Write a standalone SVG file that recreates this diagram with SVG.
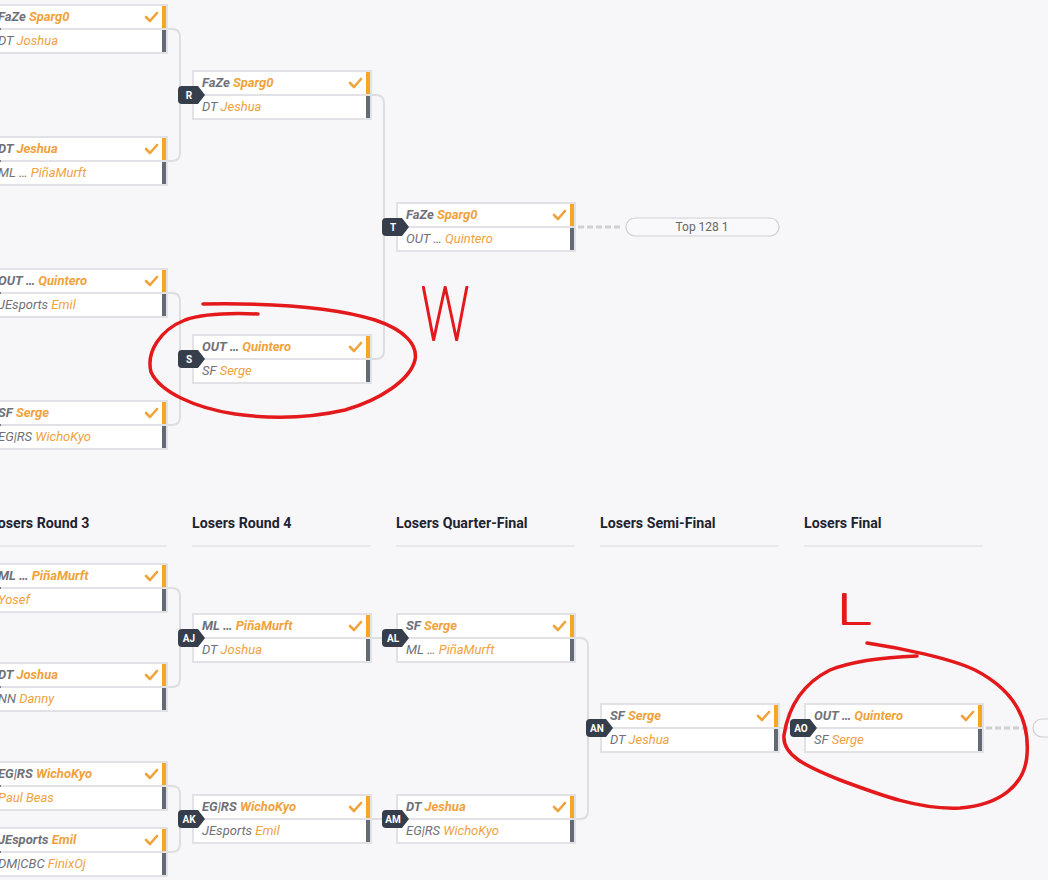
<svg xmlns="http://www.w3.org/2000/svg" width="1048" height="880" viewBox="0 0 1048 880">
<defs>
<style>
.bg{fill:#f7f7f9}
.box{fill:#fff;stroke:#e2e2e6;stroke-width:2}
.div{stroke:#e2e2e6;stroke-width:2}
.win{fill:#f5a623}
.los{fill:#626a74}
.chk{fill:none;stroke:#f0a33a;stroke-width:2.6;stroke-linecap:round;stroke-linejoin:round}
.t{font-family:Roboto,"Liberation Sans",sans-serif;font-size:13px;font-style:italic}
.t1{font-weight:bold}
.pre{fill:#707078}
.nm{fill:#f0a23c}
.tag{fill:#363d4b}
.tagt{font-family:Roboto,"Liberation Sans",sans-serif;font-size:10px;font-weight:bold;fill:#fff;text-anchor:middle}
.con{fill:none;stroke:#dedee2;stroke-width:2}
.dash{fill:none;stroke:#cfcfd4;stroke-width:3;stroke-dasharray:6,3}
.pill{fill:#f9f9fb;stroke:#cfcfd4;stroke-width:1.2}
.pillt{font-family:Roboto,"Liberation Sans",sans-serif;font-size:12px;fill:#666;text-anchor:middle}
.hd{font-family:Roboto,"Liberation Sans",sans-serif;font-size:14.2px;font-weight:bold;fill:#1d2330}
.hl{stroke:#dcdce0;stroke-width:1}
.red{fill:none;stroke:#e3191c;stroke-width:3.5;stroke-linecap:round;stroke-linejoin:round}
.redt{font-family:"DejaVu Sans ExtraLight","Roboto Thin",Roboto,sans-serif;font-weight:200;fill:#e3191c;stroke:#e3191c;stroke-width:2;stroke-linejoin:round}
</style>
<g id="boxbase">
<rect class="box" x="0" y="0" width="178" height="48"/>
<line class="div" x1="0" y1="24" x2="178" y2="24"/>
<rect class="win" x="173" y="1" width="4" height="22"/>
<rect class="los" x="173" y="25" width="4" height="22"/>
<path class="chk" d="M157,12 L161,16 L168,8"/>
</g>
<path id="tagshape" class="tag" d="M-11,15 H5 L12,24 L5,33 H-11 Q-15,33 -15,29 V19 Q-15,15 -11,15 Z"/>
</defs>
<rect class="bg" x="0" y="0" width="1048" height="880"/>

<g id="connectors">
<path class="con" d="M167,29 H172 Q180,29 180,37 V153 Q180,161 172,161 H167"/>
<path class="con" d="M167,293 H172 Q180,293 180,301 V417 Q180,425 172,425 H167"/>
<path class="con" d="M371,95 H376 Q384,95 384,103 V351 Q384,359 376,359 H371"/>
<path class="dash" d="M578,227 H622"/>
<path class="con" d="M167,588 H172 Q180,588 180,596 V679 Q180,687 172,687 H167"/>
<path class="con" d="M167,786 H172 Q180,786 180,794 V844 Q180,852 172,852 H167"/>
<path class="con" d="M371,638 H397"/>
<path class="con" d="M371,819 H397"/>
<path class="con" d="M575,638 H580 Q588,638 588,646 V811 Q588,819 580,819 H575"/>
<path class="con" d="M779,728 H805"/>
<path class="dash" d="M986,728 H1030"/>
</g>

<g id="headers">
<text class="hd" x="-10" y="528">Losers Round 3</text>
<line class="hl" x1="0" y1="546" x2="167" y2="546"/>
<text class="hd" x="192" y="528">Losers Round 4</text>
<line class="hl" x1="192" y1="546" x2="371" y2="546"/>
<text class="hd" x="396" y="528">Losers Quarter-Final</text>
<line class="hl" x1="396" y1="546" x2="575" y2="546"/>
<text class="hd" x="600" y="528">Losers Semi-Final</text>
<line class="hl" x1="600" y1="546" x2="779" y2="546"/>
<text class="hd" x="804" y="528">Losers Final</text>
<line class="hl" x1="804" y1="546" x2="983" y2="546"/>
</g>

<g id="w1a" transform="translate(-11,5)"><use href="#boxbase"/><use href="#tagshape"/>
<text class="t t1" x="9" y="16"><tspan class="pre">FaZe</tspan> <tspan class="nm">Sparg0</tspan></text>
<text class="t" x="9" y="40"><tspan class="pre">DT</tspan> <tspan class="nm">Joshua</tspan></text></g>
<g id="w1b" transform="translate(-11,137)"><use href="#boxbase"/><use href="#tagshape"/>
<text class="t t1" x="9" y="16"><tspan class="pre">DT</tspan> <tspan class="nm">Jeshua</tspan></text>
<text class="t" x="9" y="40"><tspan class="pre">ML …</tspan> <tspan class="nm">PiñaMurft</tspan></text></g>
<g id="w1c" transform="translate(-11,269)"><use href="#boxbase"/><use href="#tagshape"/>
<text class="t t1" x="9" y="16"><tspan class="pre">OUT …</tspan> <tspan class="nm">Quintero</tspan></text>
<text class="t" x="9" y="40"><tspan class="pre">JEsports</tspan> <tspan class="nm">Emil</tspan></text></g>
<g id="w1d" transform="translate(-11,401)"><use href="#boxbase"/><use href="#tagshape"/>
<text class="t t1" x="9" y="16"><tspan class="pre">SF</tspan> <tspan class="nm">Serge</tspan></text>
<text class="t" x="9" y="40"><tspan class="pre">EG|RS</tspan> <tspan class="nm">WichoKyo</tspan></text></g>

<g id="match-R" transform="translate(193,71)"><use href="#boxbase"/><use href="#tagshape"/><text class="tagt" x="-4" y="28">R</text>
<text class="t t1" x="9" y="16"><tspan class="pre">FaZe</tspan> <tspan class="nm">Sparg0</tspan></text>
<text class="t" x="9" y="40"><tspan class="pre">DT</tspan> <tspan class="nm">Jeshua</tspan></text></g>
<g id="match-S" transform="translate(193,335)"><use href="#boxbase"/><use href="#tagshape"/><text class="tagt" x="-4" y="28">S</text>
<text class="t t1" x="9" y="16"><tspan class="pre">OUT …</tspan> <tspan class="nm">Quintero</tspan></text>
<text class="t" x="9" y="40"><tspan class="pre">SF</tspan> <tspan class="nm">Serge</tspan></text></g>
<g id="match-T" transform="translate(397,203)"><use href="#boxbase"/><use href="#tagshape"/><text class="tagt" x="-4" y="28">T</text>
<text class="t t1" x="9" y="16"><tspan class="pre">FaZe</tspan> <tspan class="nm">Sparg0</tspan></text>
<text class="t" x="9" y="40"><tspan class="pre">OUT …</tspan> <tspan class="nm">Quintero</tspan></text></g>
<g id="next-top"><rect class="pill" x="626" y="218" width="153" height="18" rx="9"/><text class="pillt" x="702" y="231">Top 128 1</text></g>

<g id="l3a" transform="translate(-11,564)"><use href="#boxbase"/><use href="#tagshape"/>
<text class="t t1" x="9" y="16"><tspan class="pre">ML …</tspan> <tspan class="nm">PiñaMurft</tspan></text>
<text class="t" x="9" y="40"><tspan class="nm">Yosef</tspan></text></g>
<g id="l3b" transform="translate(-11,663)"><use href="#boxbase"/><use href="#tagshape"/>
<text class="t t1" x="9" y="16"><tspan class="pre">DT</tspan> <tspan class="nm">Joshua</tspan></text>
<text class="t" x="9" y="40"><tspan class="pre">NN</tspan> <tspan class="nm">Danny</tspan></text></g>
<g id="l3c" transform="translate(-11,762)"><use href="#boxbase"/><use href="#tagshape"/>
<text class="t t1" x="9" y="16"><tspan class="pre">EG|RS</tspan> <tspan class="nm">WichoKyo</tspan></text>
<text class="t" x="9" y="40"><tspan class="nm">Paul Beas</tspan></text></g>
<g id="l3d" transform="translate(-11,828)"><use href="#boxbase"/><use href="#tagshape"/>
<text class="t t1" x="9" y="16"><tspan class="pre">JEsports</tspan> <tspan class="nm">Emil</tspan></text>
<text class="t" x="9" y="40"><tspan class="pre">DM|CBC</tspan> <tspan class="nm">FinixOj</tspan></text></g>

<g id="match-AJ" transform="translate(193,614)"><use href="#boxbase"/><use href="#tagshape"/><text class="tagt" x="-4" y="28">AJ</text>
<text class="t t1" x="9" y="16"><tspan class="pre">ML …</tspan> <tspan class="nm">PiñaMurft</tspan></text>
<text class="t" x="9" y="40"><tspan class="pre">DT</tspan> <tspan class="nm">Joshua</tspan></text></g>
<g id="match-AK" transform="translate(193,795)"><use href="#boxbase"/><use href="#tagshape"/><text class="tagt" x="-4" y="28">AK</text>
<text class="t t1" x="9" y="16"><tspan class="pre">EG|RS</tspan> <tspan class="nm">WichoKyo</tspan></text>
<text class="t" x="9" y="40"><tspan class="pre">JEsports</tspan> <tspan class="nm">Emil</tspan></text></g>
<g id="match-AL" transform="translate(397,614)"><use href="#boxbase"/><use href="#tagshape"/><text class="tagt" x="-4" y="28">AL</text>
<text class="t t1" x="9" y="16"><tspan class="pre">SF</tspan> <tspan class="nm">Serge</tspan></text>
<text class="t" x="9" y="40"><tspan class="pre">ML …</tspan> <tspan class="nm">PiñaMurft</tspan></text></g>
<g id="match-AM" transform="translate(397,795)"><use href="#boxbase"/><use href="#tagshape"/><text class="tagt" x="-4" y="28">AM</text>
<text class="t t1" x="9" y="16"><tspan class="pre">DT</tspan> <tspan class="nm">Jeshua</tspan></text>
<text class="t" x="9" y="40"><tspan class="pre">EG|RS</tspan> <tspan class="nm">WichoKyo</tspan></text></g>
<g id="match-AN" transform="translate(601,704)"><use href="#boxbase"/><use href="#tagshape"/><text class="tagt" x="-4" y="28">AN</text>
<text class="t t1" x="9" y="16"><tspan class="pre">SF</tspan> <tspan class="nm">Serge</tspan></text>
<text class="t" x="9" y="40"><tspan class="pre">DT</tspan> <tspan class="nm">Jeshua</tspan></text></g>
<g id="match-AO" transform="translate(805,704)"><use href="#boxbase"/><use href="#tagshape"/><text class="tagt" x="-4" y="28">AO</text>
<text class="t t1" x="9" y="16"><tspan class="pre">OUT …</tspan> <tspan class="nm">Quintero</tspan></text>
<text class="t" x="9" y="40"><tspan class="pre">SF</tspan> <tspan class="nm">Serge</tspan></text></g>
<g id="next-bottom"><rect class="pill" x="1033" y="719" width="153" height="18" rx="9"/></g>

<g id="annotations">
<path class="red" d="M203,304 C260,303 330,306 375,320 C405,330 418,345 415,360 C410,380 380,400 345,410 C310,418 270,419 235,414 C195,408 160,392 151,372 C146,352 160,330 185,320 C205,313 235,313 258,314"/>
<text class="redt" x="0" y="0" font-size="74" transform="translate(421,340) scale(0.72,1)">W</text>
<text class="redt" x="0" y="0" font-size="44" transform="translate(837,624) scale(1.5,0.95)">L</text>
<path class="red" d="M867,643 C900,648 950,658 975,670 C1010,688 1030,715 1027,755 C1025,785 1000,805 960,808 C920,810 880,795 840,780 C805,766 782,755 784,735 C788,710 800,685 830,670 C855,660 890,657 917,656"/>
</g>
</svg>
